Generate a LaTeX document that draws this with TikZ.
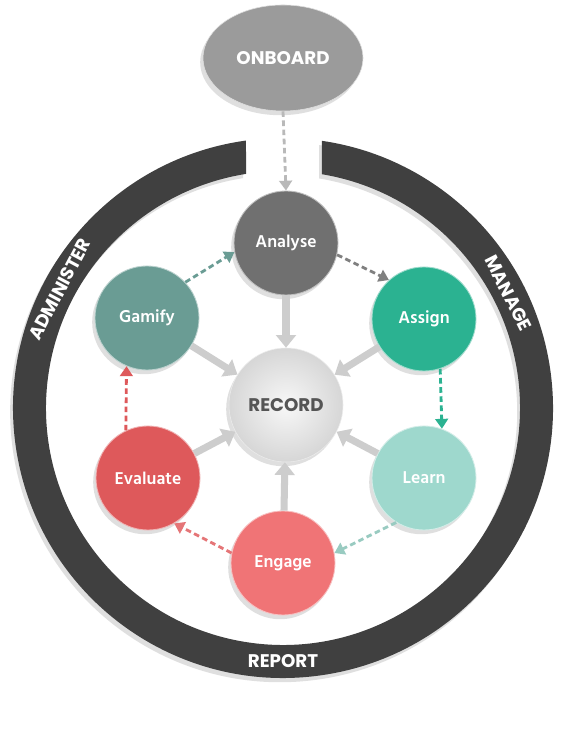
\documentclass[tikz,border=0pt]{standalone}
\usepackage{fontspec}
\usepackage{tikz}
\usepackage{xcolor}
\usetikzlibrary{arrows.meta,positioning,shapes.geometric,shadows}
\setmainfont{Poppins}
\newfontfamily\stepfont{Hind Siliguri}
\definecolor{ringgray}{RGB}{64,64,64}
\definecolor{onboardgray}{RGB}{155,155,155}
\definecolor{analysegray}{RGB}{112,112,112}
\definecolor{assigngreen}{RGB}{43,178,145}
\definecolor{learnteal}{RGB}{158,216,205}
\definecolor{engagepink}{RGB}{240,116,118}
\definecolor{evalred}{RGB}{222,89,91}
\definecolor{gamifyteal}{RGB}{106,156,148}
\definecolor{recordtext}{RGB}{85,85,85}
\definecolor{feedgray}{RGB}{205,205,205}
\tikzset{
  softshadow/.style = {
    drop shadow={opacity=0.25, shadow xshift=-2pt, shadow yshift=-3pt}
  },
  onboardnode/.style = {
    ellipse,
    draw=white!75!gray,
    fill=onboardgray,
    text=white,
    font=\bfseries\fontsize{13}{15}\selectfont,
    minimum width=40mm,
    minimum height=26.5mm,
    softshadow
  },
  stepnode/.style = {
    circle,
    draw=white!55!#1,
    line width=0.6pt,
    fill=#1,
    text=white,
    font=\stepfont\bfseries\fontsize{12.5}{14}\selectfont,
    inner sep=0pt,
    minimum size=26mm,
    softshadow
  },
  recordnode/.style = {
    circle,
    draw=white!85!gray,
    inner color=gray!6,
    outer color=gray!32,
    text=recordtext,
    font=\bfseries\fontsize{13}{15}\selectfont,
    inner sep=0pt,
    minimum size=28.5mm,
    softshadow
  },
  ringlabel/.style = {
    text=white,
    font=\bfseries\fontsize{13}{15}\selectfont
  },
  looparrow/.style = {
    draw=#1,
    line width=2pt,
    dash pattern=on 4pt off 2.5pt,
    -{Triangle[width=9pt,length=7pt,fill=#1]}
  },
  feedarrow/.style = {
    draw=feedgray,
    line width=5pt,
    -{Triangle[width=14pt,length=9pt]}
  }
}
\begin{document}
\begin{tikzpicture}[x=0.025cm, y=0.025cm]
  \useasboundingbox[fill=white] (0,0) rectangle (561,741);
  \coordinate (ringc) at (283,333);
  % outer ring, open at the top
  \fill[ringgray, softshadow] ([shift={(97.88:270)}]ringc)
    arc[start angle=97.88, end angle=441.70, radius=270]
    -- ([shift={(440.53:237)}]ringc)
    arc[start angle=440.53, end angle=98.98, radius=237] -- cycle;
  \node[ringlabel, rotate=62] (administer) at ([shift={(152:253)}]ringc) {ADMINISTER};
  \node[ringlabel, rotate=-63] (manage) at ([shift={(27:253)}]ringc) {MANAGE};
  \node[ringlabel] (report) at ([shift={(270:253)}]ringc) {REPORT};

  \node[onboardnode] (onboard) at (283,683) {ONBOARD};
  \node[recordnode] (record) at (286,336) {RECORD};
  \node[stepnode=analysegray] (analyse) at (286,498) {Analyse};
  \node[stepnode=assigngreen] (assign) at (424,422) {Assign};
  \node[stepnode=learnteal] (learn) at (424,263) {Learn};
  \node[stepnode=engagepink] (engage) at (283,178) {Engage};
  \node[stepnode=evalred] (evaluate) at (148,263) {Evaluate};
  \node[stepnode=gamifyteal] (gamify) at (147,423) {Gamify};

  % every step feeds the record
  \draw[feedarrow] (analyse) -- (record);
  \draw[feedarrow] (assign) -- (record);
  \draw[feedarrow] (learn) -- (record);
  \draw[feedarrow] (engage) -- (record);
  \draw[feedarrow] (evaluate) -- (record);
  \draw[feedarrow] (gamify) -- (record);

  % the cycle
  \draw[looparrow=gray!55] (onboard.south) -- (analyse.north);
  \draw[looparrow=gray] (analyse.-13) -- (assign.132);
  \draw[looparrow=assigngreen] (assign.-72) -- (learn.70);
  \draw[looparrow=learnteal!85!gray] (learn.-122) -- (engage.11);
  \draw[looparrow=engagepink!90!gray] (engage.169) -- (evaluate.-60);
  \draw[looparrow=evalred] (evaluate.115) -- (gamify.-113);
  \draw[looparrow=gamifyteal] (gamify.43) -- (analyse.190);
\end{tikzpicture}
\end{document}
